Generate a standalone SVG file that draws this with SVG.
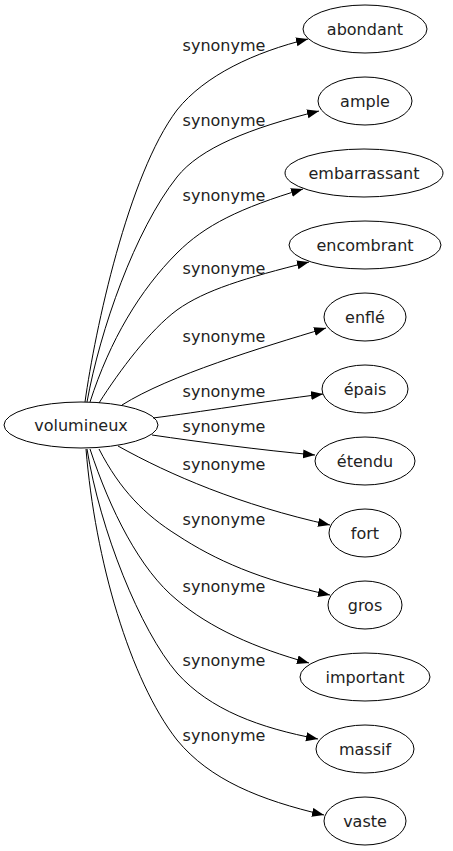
<svg xmlns="http://www.w3.org/2000/svg" width="453" height="851" viewBox="0 0 453 851">
<style>
.n ellipse{fill:none;stroke:#000;stroke-width:1}
text{font-family:"DejaVu Sans",sans-serif;font-size:16px;fill:#222;text-anchor:middle}
.e path{fill:none;stroke:#000;stroke-width:1;marker-end:url(#ah)}
</style>
<defs>
<marker id="ah" markerUnits="userSpaceOnUse" markerWidth="14" markerHeight="10" refX="12" refY="4.5" orient="auto">
<path d="M0,0 L12,4.5 L0,9 Z" fill="#000"/>
</marker>
</defs>
<rect width="453" height="851" fill="#fff"/>
<g id="edges" class="e">
<path d="M85,402 C95,330 128,175 177,110 C205,75 255,52 308,39"/>
<path d="M87,402 C100,330 135,230 177,177 C200,148 250,128 319,111"/>
<path d="M90,402 C110,340 140,290 177,253 C205,225 240,208 303,189"/>
<path d="M99,403 C120,370 150,330 177,310 C205,290 245,278 309,262"/>
<path d="M122,405 C170,375 260,348 326,328"/>
<path d="M153,418 C200,412 260,402 323,394"/>
<path d="M152,435 C200,442 260,450 315,455"/>
<path d="M118,446 C170,475 240,505 330,525"/>
<path d="M99,449 C120,490 145,515 177,535 C215,560 260,580 330,595"/>
<path d="M90,449 C110,510 140,570 177,600 C210,628 255,648 309,663"/>
<path d="M87,449 C100,530 140,630 177,673 C210,710 260,728 318,739"/>
<path d="M86,449 C95,560 130,680 177,740 C210,780 260,800 324,815"/>
<text x="224" y="51">synonyme</text>
<text x="224" y="126">synonyme</text>
<text x="224" y="201">synonyme</text>
<text x="224" y="274">synonyme</text>
<text x="224" y="342">synonyme</text>
<text x="224" y="397">synonyme</text>
<text x="224" y="432">synonyme</text>
<text x="224" y="470">synonyme</text>
<text x="224" y="525">synonyme</text>
<text x="224" y="592">synonyme</text>
<text x="224" y="666">synonyme</text>
<text x="224" y="741">synonyme</text>
</g>
<g id="volumineux" class="n"><ellipse cx="81" cy="425" rx="77" ry="23"/><text x="81" y="431">volumineux</text></g>
<g id="abondant" class="n"><ellipse cx="365" cy="29" rx="62" ry="24"/><text x="365" y="35">abondant</text></g>
<g id="ample" class="n"><ellipse cx="365" cy="101" rx="47" ry="24"/><text x="365" y="107">ample</text></g>
<g id="embarrassant" class="n"><ellipse cx="364" cy="173" rx="79" ry="24"/><text x="364" y="179">embarrassant</text></g>
<g id="encombrant" class="n"><ellipse cx="365" cy="245" rx="76" ry="24"/><text x="365" y="251">encombrant</text></g>
<g id="enfle" class="n"><ellipse cx="365" cy="317" rx="41" ry="24"/><text x="365" y="323">enflé</text></g>
<g id="epais" class="n"><ellipse cx="365" cy="389" rx="43" ry="24"/><text x="365" y="395">épais</text></g>
<g id="etendu" class="n"><ellipse cx="365" cy="461" rx="50" ry="24"/><text x="365" y="467">étendu</text></g>
<g id="fort" class="n"><ellipse cx="365" cy="533" rx="36" ry="24"/><text x="365" y="539">fort</text></g>
<g id="gros" class="n"><ellipse cx="365" cy="605" rx="37" ry="24"/><text x="365" y="611">gros</text></g>
<g id="important" class="n"><ellipse cx="365" cy="677" rx="65" ry="24"/><text x="365" y="683">important</text></g>
<g id="massif" class="n"><ellipse cx="365" cy="749" rx="49" ry="24"/><text x="365" y="755">massif</text></g>
<g id="vaste" class="n"><ellipse cx="365" cy="821" rx="41" ry="24"/><text x="365" y="827">vaste</text></g>
</svg>
